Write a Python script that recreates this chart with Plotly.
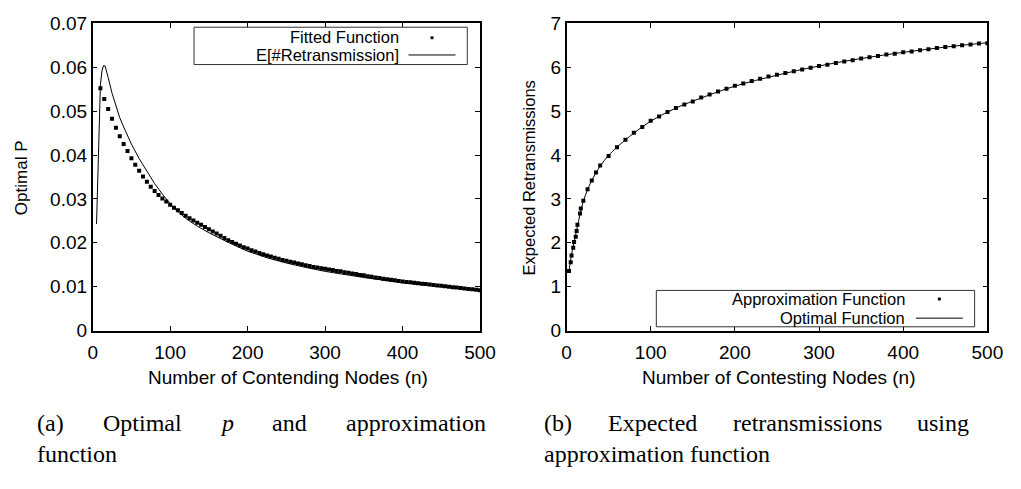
import plotly.graph_objects as go

# ---------------- data ----------------
# (a) fitted approximation of the optimal transmission probability
fit_n = list(range(10, 501, 5))
fit_p = [
    0.0552, 0.0528, 0.0505, 0.0483, 0.0462, 0.0443, 0.0425, 0.0409, 0.0393, 0.0378,
    0.0364, 0.0351, 0.0339, 0.0328, 0.0318, 0.0309, 0.0301, 0.0294, 0.0287,
    0.0280, 0.0274, 0.0268, 0.0262, 0.0256, 0.0251, 0.0246, 0.0241, 0.0236, 0.0231,
    0.0226, 0.0221, 0.0216, 0.0211, 0.0206, 0.0202, 0.0198, 0.0194, 0.0190, 0.0187,
    0.0183, 0.0180, 0.0177, 0.0174, 0.0171, 0.0169, 0.0166, 0.0164, 0.0161, 0.0159,
    0.0157, 0.0155, 0.0153, 0.0151, 0.0149, 0.0147, 0.0145, 0.0144, 0.0142, 0.0141,
    0.0139, 0.0138, 0.0136, 0.0135, 0.0133, 0.0132, 0.0130, 0.0129, 0.0127, 0.0126,
    0.0124, 0.0123, 0.0121, 0.0120, 0.0118, 0.0117, 0.0116, 0.0115, 0.0113, 0.0112,
    0.0111, 0.0110, 0.0109, 0.0108, 0.0107, 0.0106, 0.0105, 0.0104, 0.0103, 0.0102,
    0.0101, 0.0100, 0.0099, 0.0098, 0.0097, 0.0096, 0.0095, 0.0094, 0.0093, 0.0092,
]

# (a) optimal p minimising E[#Retransmission]
opt_n = [5, 10, 12, 14, 16, 18, 20, 25, 30, 35, 40, 45, 50, 60, 70, 80, 90, 100,
         110, 120, 135, 150, 175, 200, 225, 250, 275, 300, 350, 400, 450, 500]
opt_p = [0.0243, 0.0560, 0.0592, 0.0604, 0.0603, 0.0592, 0.0577, 0.0541, 0.0510,
         0.0485, 0.0464, 0.0444, 0.0425, 0.0392, 0.0362, 0.0335, 0.0311, 0.0289,
         0.0271, 0.0256, 0.0238, 0.0223, 0.0201, 0.0181, 0.0166, 0.0154, 0.0144,
         0.0135, 0.0121, 0.0109, 0.0100, 0.0092]

# (b) expected retransmissions with the approximation function
apx_n = [3, 5, 6, 8, 9, 11, 12, 13, 16, 17, 20, 25, 30, 35, 40] + list(range(50, 501, 10))
apx_e = [1.36, 1.56, 1.71, 1.89, 2.02, 2.14, 2.27, 2.41, 2.67, 2.78, 2.96, 3.22, 3.42,
         3.60, 3.76,
         3.98, 4.18, 4.35, 4.51, 4.64, 4.78, 4.88, 4.98, 5.07, 5.15,
         5.22, 5.31, 5.38, 5.45, 5.51, 5.58, 5.63, 5.69, 5.74, 5.79,
         5.83, 5.87, 5.91, 5.95, 5.99, 6.03, 6.06, 6.10, 6.13, 6.16,
         6.20, 6.23, 6.26, 6.29, 6.31, 6.34, 6.36, 6.39, 6.41, 6.44,
         6.46, 6.48, 6.50, 6.52, 6.54, 6.55]

# (b) expected retransmissions with the optimal p
best_n = [3, 4, 6, 8, 10, 13, 16, 20, 25, 30, 40, 50, 60, 80, 100, 130, 160, 200,
          250, 300, 350, 400, 450, 500]
best_e = [1.34, 1.50, 1.73, 1.92, 2.10, 2.38, 2.64, 2.95, 3.21, 3.42, 3.75, 3.99,
          4.18, 4.50, 4.77, 5.07, 5.30, 5.57, 5.82, 6.03, 6.20, 6.34, 6.46, 6.56]

x_ticks = [0, 100, 200, 300, 400, 500]
p_ticks = [0, 0.01, 0.02, 0.03, 0.04, 0.05, 0.06, 0.07]
p_tick_text = ["0", "0.01", "0.02", "0.03", "0.04", "0.05", "0.06", "0.07"]
e_ticks = [0, 1, 2, 3, 4, 5, 6, 7]

# ---------------- layout helpers ----------------
W, H = 1021, 489


def fx(x):
    return x / W


def fy(y):
    return 1 - y / H


SANS = "Liberation Sans"
SERIF = "Liberation Serif"
TICK_FONT = dict(family=SANS, size=19, color="black")

fig = go.Figure()

fig.add_trace(go.Scatter(x=fit_n, y=fit_p, mode="markers", xaxis="x", yaxis="y",
                         marker=dict(symbol="square", size=4, color="black",
                                     line=dict(width=0))))
fig.add_trace(go.Scatter(x=opt_n, y=opt_p, mode="lines", xaxis="x", yaxis="y",
                         line=dict(color="black", width=1)))
fig.add_trace(go.Scatter(x=best_n, y=best_e, mode="lines", xaxis="x2", yaxis="y2",
                         line=dict(color="black", width=1, shape="spline")))
fig.add_trace(go.Scatter(x=apx_n, y=apx_e, mode="markers", xaxis="x2", yaxis="y2",
                         marker=dict(symbol="square", size=4, color="black",
                                     line=dict(width=0))))

axis_common = dict(showline=True, linecolor="black", linewidth=1.5, mirror="ticks",
                   ticks="inside", ticklen=5, tickwidth=1, tickcolor="black",
                   showgrid=False, zeroline=False, tickfont=TICK_FONT)
x_axis = dict(axis_common, ticklabelstandoff=4)
y_axis = dict(axis_common, ticklabelstandoff=0)

y_dom = [fy(335), fy(14)]
fig.update_layout(
    width=W, height=H, margin=dict(l=0, r=0, t=0, b=0),
    paper_bgcolor="white", plot_bgcolor="white", showlegend=False,
    xaxis=dict(domain=[fx(89.5), fx(485)], range=[0, 500], tickvals=x_ticks,
               anchor="y", **x_axis),
    yaxis=dict(domain=y_dom, range=[0, 0.07], tickvals=p_ticks, ticktext=p_tick_text,
               anchor="x", **y_axis),
    xaxis2=dict(domain=[fx(573.3), fx(1003)], range=[0, 500], tickvals=x_ticks,
                anchor="y2", **x_axis),
    yaxis2=dict(domain=y_dom, range=[0, 7], tickvals=e_ticks, anchor="x2",
                **y_axis),
)

annotations = []
shapes = []


def text(x, y, s, size=17, family=SANS, xanchor="center", angle=0):
    annotations.append(dict(x=fx(x), y=fy(y), xref="paper", yref="paper", text=s,
                            showarrow=False, xanchor=xanchor, yanchor="middle",
                            textangle=angle, borderpad=0,
                            font=dict(family=family, size=size, color="black")))


# axis titles
text(289, 384, "Number of Contending Nodes (n)", size=19)
text(790, 384, "Number of Contesting Nodes (n)", size=19)
text(17, 175, "Optimal P", size=17, angle=-90)
text(535, 175, "Expected Retransmissions", size=16.5, angle=-90)


# legends (gnuplot style: right-justified text, sample on the right)
def legend_box(x0, y0, x1, y1):
    shapes.append(dict(type="rect", xref="paper", yref="paper",
                       x0=fx(x0), x1=fx(x1), y0=fy(y1), y1=fy(y0),
                       line=dict(color="#333333", width=1), fillcolor="white",
                       layer="above"))


def dot_sample(x, y):
    shapes.append(dict(type="rect", xref="paper", yref="paper",
                       x0=fx(x - 1.5), x1=fx(x + 1.5), y0=fy(y + 1.5), y1=fy(y - 1.5),
                       line=dict(width=0), fillcolor="black", layer="above"))


def line_sample(x0, x1, y):
    shapes.append(dict(type="line", xref="paper", yref="paper",
                       x0=fx(x0), x1=fx(x1), y0=fy(y), y1=fy(y),
                       line=dict(color="black", width=1), layer="above"))


LEG_SIZE = 16.5
legend_box(193, 18, 472, 57)
text(403, 28.5, "Fitted Function", size=LEG_SIZE, xanchor="right")
text(403, 47, "E[#Retransmission]", size=LEG_SIZE, xanchor="right")
dot_sample(436, 29)
line_sample(412, 460, 47)

legend_box(665, 293, 990, 331)
text(920, 302, "Approximation Function", size=LEG_SIZE, xanchor="right")
text(920, 321.5, "Optimal Function", size=LEG_SIZE, xanchor="right")
dot_sample(954, 302)
line_sample(930, 978, 322)


# captions, first lines set justified word by word
def caption_words(words, y):
    for x, w in words:
        text(x, y, w, size=24, family=SERIF, xanchor="left")


caption_words([(32, "(a)"), (99, "Optimal"), (219, "<i>p</i>"), (272, "and"),
               (347, "approximation")], 432)
caption_words([(32, "function")], 464)
caption_words([(549, "(b)"), (615, "Expected"), (742, "retransmissions"),
               (930, "using")], 432)
caption_words([(549, "approximation function")], 464)

fig.update_layout(annotations=annotations, shapes=shapes)

fig.write_html("out.html")
